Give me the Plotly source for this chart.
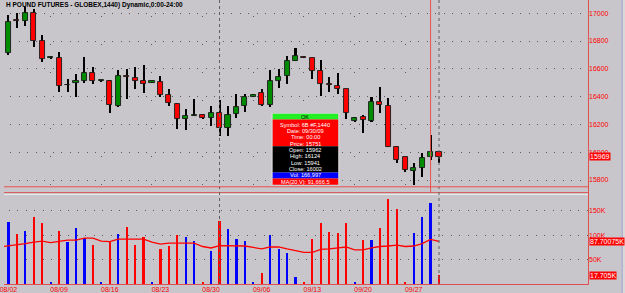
import plotly.graph_objects as go

# ---------------- data ----------------
dates = ['08/03','08/04','08/05','08/06','08/07','08/09','08/10','08/11','08/12','08/13','08/14','08/16',
         '08/17','08/18','08/19','08/20','08/21','08/23','08/24','08/25','08/26','08/27','08/28','08/30',
         '08/31','09/01','09/02','09/03','09/04','09/06','09/07','09/08','09/09','09/10','09/11','09/13',
         '09/14','09/15','09/16','09/17','09/18','09/20','09/21','09/22','09/23','09/24','09/25','09/27',
         '09/28','09/29','09/30','10/01']
prev_date = '08/02'

open_ = [16716,16950,16946,16999,16797,16678,16680,16480,16495,16512,16572,16510,
         16514,16334,16551,16531,16512,16500,16507,16409,16347,16239,16264,16267,
         16243,16284,16171,16272,16332,16398,16423,16337,16512,16548,16658,16686,
         16675,16584,16490,16478,16452,16227,16256,16227,16361,16332,16039,15962,
         15867,15888,15962,16002]
high = [16987,17004,17047,17030,16841,16695,16723,16524,16562,16682,16615,16522,
        16519,16591,16598,16610,16629,16523,16548,16452,16351,16311,16383,16272,
        16332,16375,16332,16416,16416,16416,16452,16591,16598,16692,16747,16690,
        16678,16663,16538,16572,16457,16251,16268,16399,16467,16387,16044,15967,
        15924,15992,16124,16010]
low = [16699,16891,16908,16759,16651,16668,16436,16436,16395,16495,16488,16505,
       16279,16327,16380,16454,16424,16497,16395,16332,16164,16160,16261,16238,
       16188,16116,16116,16243,16291,16396,16332,16327,16459,16488,16656,16678,
       16524,16404,16436,16418,16236,16217,16141,16217,16284,16035,15919,15859,
       15765,15824,15941,15925]
close = [16939,16943,16999,16797,16668,16686,16476,16486,16509,16572,16512,16516,
         16339,16548,16538,16512,16490,16510,16414,16352,16239,16263,16270,16243,
         16279,16176,16265,16327,16399,16410,16337,16512,16538,16653,16692,16680,
         16584,16493,16486,16452,16279,16246,16232,16361,16337,16039,15943,15871,
         15883,15960,16002,15969]
volume_k = [128,102,109,138,125,2.5,109,86,114,95,81,2.5,
            86,102,118,80,96,2.5,72,78,100,96,88,2.5,
            68,129,113,93,88,2.5,22,100,72,63,14,2.5,
            92,126,107,104,125,2.5,90,90,116,174,153,2.5,
            105,138,166.997,17.705]
ma20_k = [76,  # 08/02 (previous session)
          78,80,83,86,88,85,87,90,90,94,94,88,
          87,92,92,92,92,86,82,84,84,84,84,77,
          74,79,79,79,78,75,72,76,76,72,68,65,
          65,71,72,74,76,70,70,74,77,78,80,77,
          78,83,91.6665,87.70075]

week_ticks = ['08/03','08/10','08/17','08/24','08/31','09/07','09/14','09/21','09/28']
week_labels = ['08/02','08/09','08/16','08/23','08/30','09/06','09/13','09/20','09/27']
sunday_ticks = ['08/09','08/16','08/23','08/30','09/06','09/13','09/20','09/27']
month_starts = ['09/01','10/01']
price_ticks = [15800,16000,16200,16400,16600,16800,17000]
vol_ticks = [50,100,150]
vol_tick_text = ['50K','100K','150K']

title_text = 'H POUND FUTURES - GLOBEX,1440) Dynamic,0:00-24:00'
sel_date = '09/30'
sel_full_date = '09/30/09'
cross_price = 15751
symbol = '6B #F,1440'

# ---------------- geometry helpers ----------------
W, H = 625, 293
PW = 588
def xp(px):
    return px / PW
def yp(py):
    return 1 - py / H

BG = '#C8C6CA'
RED = '#FF0000'
GREEN = '#008C00'
BLUE = '#0000FF'
FONT = 'Liberation Sans'

cats = [prev_date] + dates
up = [c >= o for o, c in zip(open_, close)]
body_base = [min(o, c) for o, c in zip(open_, close)]
body_h = [max(abs(c - o), 4) for o, c in zip(open_, close)]
wick_h = [h - l for h, l in zip(high, low)]

fig = go.Figure()

# wicks
fig.add_trace(go.Bar(x=dates, y=wick_h, base=low, width=0.24,
                     marker=dict(color='#000000', line=dict(width=0)),
                     xaxis='x', yaxis='y', hoverinfo='skip'))
# bodies
fig.add_trace(go.Bar(x=dates, y=body_h, base=body_base, width=0.6,
                     marker=dict(color=[GREEN if u else RED for u in up],
                                 line=dict(color='#1A1A1A', width=0.9)),
                     xaxis='x', yaxis='y', hoverinfo='skip'))
# volume
fig.add_trace(go.Bar(x=dates, y=volume_k, width=0.26,
                     marker=dict(color=[BLUE if u else RED for u in up], line=dict(width=0)),
                     xaxis='x2', yaxis='y2', hoverinfo='skip'))
# MA(20) of volume
fig.add_trace(go.Scatter(x=cats, y=ma20_k, mode='lines',
                         line=dict(color=RED, width=1.3),
                         xaxis='x2', yaxis='y2', hoverinfo='skip'))

# axis ranges in pixel-derived units
x_range = [1 - 4.5 / 8.5, 1 - 4.5 / 8.5 + PW / 8.5]
p_per_px = 1 / 0.139
price_range = [17000 - (186 - 13.2) * p_per_px, 17000 + 13.2 * p_per_px]
vol_range = [0, (284 - 194) / 0.487]

axis_common = dict(type='category', categoryorder='array', categoryarray=cats,
                   range=x_range, showline=False, zeroline=False, ticks='')

fig.update_layout(
    width=W, height=H,
    margin=dict(l=0, r=W - PW, t=0, b=0, pad=0),
    paper_bgcolor=BG, plot_bgcolor=BG,
    showlegend=False, barmode='overlay', bargap=0,
    font=dict(family=FONT, size=7, color=RED),
    xaxis=dict(**axis_common, anchor='y', tickvals=sunday_ticks, showticklabels=False,
               showgrid=True, gridcolor='#5A5A5A', gridwidth=1, griddash='0px,16px,1px,11px'),
    xaxis2=dict(**axis_common, anchor='y2', matches='x', tickvals=week_ticks, ticktext=week_labels,
                showticklabels=True, showgrid=False,
                tickfont=dict(family=FONT, size=7, color=RED)),
    xaxis3=dict(**axis_common, anchor='y2', overlaying='x2', matches='x', tickvals=sunday_ticks,
                showticklabels=False, showgrid=True, gridcolor='#5A5A5A', gridwidth=1,
                griddash='0px,29px,1px,24px'),
    yaxis=dict(domain=[yp(186), 1], range=price_range, side='right', anchor='x',
               tickvals=price_ticks, ticktext=[str(p) for p in price_ticks],
               ticks='', showline=False, zeroline=False,
               showgrid=True, gridcolor='#5A5A5A', gridwidth=1, griddash='0px,6px,1px,1.5px',
               tickfont=dict(family=FONT, size=7, color=RED)),
    yaxis2=dict(domain=[yp(284), yp(194)], range=vol_range, side='right', anchor='x2',
                tickvals=vol_ticks, ticktext=vol_tick_text, ticks='', showline=False, zeroline=False,
                showgrid=True, gridcolor='#5A5A5A', gridwidth=1, griddash='0px,4.5px,1px,3px',
                tickfont=dict(family=FONT, size=7, color=RED)),
)

shapes = []
# panel frame lines
shapes.append(dict(type='line', xref='paper', yref='paper', x0=xp(588.5), x1=xp(588.5),
                   y0=yp(0), y1=yp(284.5), line=dict(color='#E05050', width=1)))
shapes.append(dict(type='line', xref='paper', yref='paper', x0=0, x1=xp(588.5),
                   y0=yp(284.5), y1=yp(284.5), line=dict(color='#E05050', width=1)))
shapes.append(dict(type='line', xref='paper', yref='paper', x0=0, x1=xp(588.5),
                   y0=yp(192.5), y1=yp(192.5), line=dict(color='#D86060', width=1)))
shapes.append(dict(type='line', xref='paper', yref='paper', x0=0, x1=xp(588),
                   y0=yp(194.5), y1=yp(194.5), line=dict(color='#E8E8E8', width=1)))
# month separators
for m in month_starts:
    shapes.append(dict(type='line', xref='x', yref='paper', x0=m, x1=m, y0=yp(0), y1=yp(284),
                       line=dict(color='#606060', width=1, dash='dot')))
# crosshair
shapes.append(dict(type='line', xref='x', yref='paper', x0=sel_date, x1=sel_date,
                   y0=yp(0), y1=yp(192), line=dict(color='#E85050', width=1)))
cross_py = 13.2 + (17000 - cross_price) * 0.139
shapes.append(dict(type='line', xref='paper', yref='paper', x0=0, x1=xp(588.5),
                   y0=yp(cross_py), y1=yp(cross_py), line=dict(color='#E85050', width=1)))
# window edge on right
shapes.append(dict(type='line', xref='paper', yref='paper', x0=xp(622.5), x1=xp(622.5),
                   y0=0, y1=1, line=dict(color='#9A9AD0', width=1)))
shapes.append(dict(type='rect', xref='paper', yref='paper', x0=xp(623), x1=xp(625.5),
                   y0=0, y1=1, fillcolor='#D8D8D8', line=dict(width=0)))

# tooltip box
bx0, bx1 = 269, 338
shapes.append(dict(type='rect', xref='paper', yref='paper', x0=xp(bx0), x1=xp(bx1),
                   y0=yp(185.5), y1=yp(113), fillcolor='#D4D4D4', line=dict(width=0)))
rows_bg = [(113.8, 119.6, '#22F022'), (119.6, 146.2, '#FF0000'), (146.2, 172.4, '#000000'),
           (172.4, 178.6, '#0000FF'), (178.6, 184.8, '#FF0000')]
for t, b, c in rows_bg:
    shapes.append(dict(type='rect', xref='paper', yref='paper', x0=xp(bx0 + 1.5), x1=xp(bx1 - 1.5),
                       y0=yp(b), y1=yp(t), fillcolor=c, line=dict(width=0)))
fig.update_layout(shapes=shapes)

si = dates.index(sel_date)
tip_rows = [
    ('OK', '#000000'),
    (f'Symbol: {symbol}', '#FFFFFF'),
    (f'Date: {sel_full_date}', '#FFFFFF'),
    ('Time: 00:00', '#FFFFFF'),
    (f'Price: {cross_price}', '#FFFFFF'),
    (f'Open: {open_[si]}', '#FFFFFF'),
    (f'High: {high[si]}', '#FFFFFF'),
    (f'Low: {low[si]}', '#FFFFFF'),
    (f'Close: {close[si]}', '#FFFFFF'),
    (f'Vol: {int(round(volume_k[si]*1000)):,}', '#FFFFFF'),
    (f'MA(20,V): {ma20_k[si+1]*1000:,.1f}', '#FFFFFF'),
]
row_y = [116.7, 124.8, 131.1, 137.4, 143.6, 150.0, 156.3, 162.6, 168.9, 175.4, 181.6]
ann = []
for (txt, col), ry in zip(tip_rows, row_y):
    ann.append(dict(xref='paper', yref='paper', x=xp((bx0 + bx1) / 2), y=yp(ry), text=txt,
                    showarrow=False, xanchor='center', yanchor='middle',
                    font=dict(family=FONT, size=5.6, color=col)))

# title
ann.append(dict(xref='paper', yref='paper', x=0, y=yp(-1.5), text='<b>' + title_text + '</b>',
                showarrow=False, xanchor='left', yanchor='top',
                font=dict(family=FONT, size=6.5, color='#000000')))
# last price / MA / last volume boxes on right
ann.append(dict(xref='paper', yref='y', x=1.0015, y=close[-1], text=str(close[-1]), showarrow=False,
                xanchor='left', yanchor='middle', bgcolor=RED, borderpad=0,
                font=dict(family=FONT, size=7, color='#FFFFFF')))
ann.append(dict(xref='paper', yref='y2', x=1.0015, y=ma20_k[-1], text=f'{ma20_k[-1]:.5f}K',
                showarrow=False, xanchor='left', yanchor='middle', bgcolor=RED, borderpad=0,
                font=dict(family=FONT, size=7, color='#FFFFFF')))
ann.append(dict(xref='paper', yref='y2', x=1.0015, y=volume_k[-1], text=f'{volume_k[-1]:.3f}K',
                showarrow=False, xanchor='left', yanchor='middle', bgcolor=RED, borderpad=0,
                font=dict(family=FONT, size=7, color='#FFFFFF')))
fig.update_layout(annotations=ann)

fig.write_html('out.html', config={'displayModeBar': False})
